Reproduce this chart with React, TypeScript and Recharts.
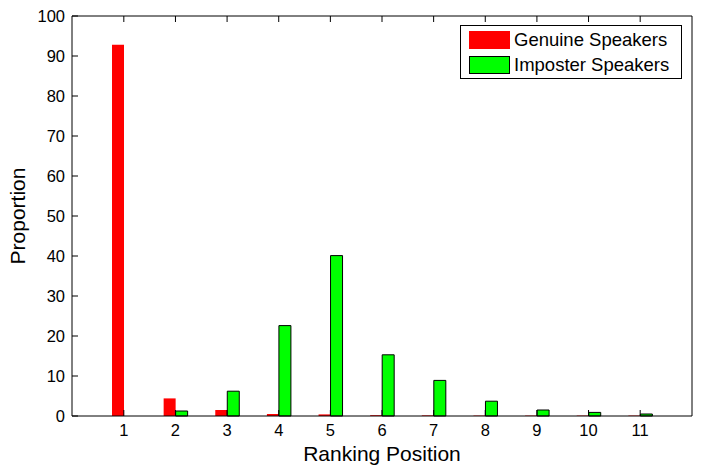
import { Bar, BarChart, XAxis, YAxis } from 'recharts';

const positions = ['1', '2', '3', '4', '5', '6', '7', '8', '9', '10', '11'];
const genuine = [92.8, 4.4, 1.5, 0.5, 0.4, 0.2, 0.15, 0.1, 0.1, 0.1, 0.1];
const imposter = [0, 1.25, 6.2, 22.6, 40.1, 15.3, 8.9, 3.7, 1.5, 0.9, 0.5];
const yTicks = [0, 10, 20, 30, 40, 50, 60, 70, 80, 90, 100];

const data = positions.map((p, i) => ({
  pos: p,
  genuine: genuine[i],
  imposter: imposter[i],
}));

const FONT = '"Liberation Sans", Arial, sans-serif';
const TICK_LEN = 6;

// matlab-style inward ticks; label coords come in as axis pos +/- 8 (tickSize 6 + margin 2)
const BottomTick = (props: any) => {
  const { x, y, payload } = props;
  const ay = y - 8;
  return (
    <g>
      <path d={`M${x},${ay}V${ay - TICK_LEN}`} stroke="#000" strokeWidth={1} fill="none" />
      <text x={x} y={ay + 20} textAnchor="middle" fill="#000" fontSize={16.5} fontFamily={FONT}>
        {payload.value}
      </text>
    </g>
  );
};

const LeftTick = (props: any) => {
  const { x, y, payload } = props;
  const ax = x + 8;
  return (
    <g>
      <path d={`M${ax},${y}H${ax + TICK_LEN}`} stroke="#000" strokeWidth={1} fill="none" />
      <text x={ax - 7} y={y + 6} textAnchor="end" fill="#000" fontSize={16.5} fontFamily={FONT}>
        {payload.value}
      </text>
    </g>
  );
};

const TopTick = (props: any) => {
  const { x, y } = props;
  const ay = y + 8;
  return <path d={`M${x},${ay}V${ay + TICK_LEN}`} stroke="#000" strokeWidth={1} fill="none" />;
};

const RightTick = (props: any) => {
  const { x, y } = props;
  const ax = x - 8;
  return <path d={`M${ax},${y}H${ax - TICK_LEN}`} stroke="#000" strokeWidth={1} fill="none" />;
};

function LegendBox() {
  const row = (color: string, stroke: string, label: string) => (
    <div style={{ display: 'flex', alignItems: 'center', height: 24.5 }}>
      <div
        style={{
          width: 41,
          height: 18,
          background: color,
          border: `1px solid ${stroke}`,
          boxSizing: 'border-box',
          marginRight: 4,
        }}
      />
      <span>{label}</span>
    </div>
  );
  return (
    <div
      style={{
        position: 'absolute',
        left: 460,
        top: 25,
        width: 222,
        height: 54,
        boxSizing: 'border-box',
        border: '1px solid #000',
        background: '#fff',
        padding: '2px 0 0 8px',
        fontFamily: FONT,
        fontSize: 18.5,
        color: '#000',
      }}
    >
      {row('#ff0000', '#ff0000', 'Genuine Speakers')}
      {row('#00ff00', '#000', 'Imposter Speakers')}
    </div>
  );
}

export default function App() {
  return (
    <div style={{ position: 'absolute', left: 0, top: 0, width: 706, height: 470, background: '#fff' }}>
      <BarChart
        width={706}
        height={470}
        data={data}
        margin={{ top: 15, right: 13, bottom: 0, left: 0 }}
        barSize={12}
        barGap={0}
        style={{ fontFamily: FONT }}
      >
        <XAxis
          dataKey="pos"
          height={54}
          padding={{ left: 26, right: 26 }}
          tick={BottomTick}
          axisLine={{ stroke: '#000' }}
          tickLine={false}
          interval={0}
          label={{ value: 'Ranking Position', position: 'insideBottom', offset: 9, fill: '#000', fontSize: 21 }}
        />
        <XAxis
          xAxisId="top"
          dataKey="pos"
          orientation="top"
          height={1}
          padding={{ left: 26, right: 26 }}
          tick={TopTick}
          axisLine={{ stroke: '#000' }}
          tickLine={false}
          interval={0}
        />
        <YAxis
          width={72}
          domain={[0, 100]}
          ticks={yTicks}
          interval={0}
          tick={LeftTick}
          axisLine={{ stroke: '#000' }}
          tickLine={false}
          label={{ value: 'Proportion', angle: -90, position: 'insideLeft', offset: 18, fill: '#000', fontSize: 21, style: { textAnchor: 'middle' } }}
        />
        <YAxis
          yAxisId="right"
          orientation="right"
          width={1}
          domain={[0, 100]}
          ticks={yTicks}
          interval={0}
          tick={RightTick}
          axisLine={{ stroke: '#000' }}
          tickLine={false}
        />
        <Bar dataKey="genuine" fill="#ff0000" stroke="none" isAnimationActive={false} />
        <Bar dataKey="imposter" fill="#00ff00" stroke="#000" strokeWidth={1} isAnimationActive={false} />
      </BarChart>
      <LegendBox />
    </div>
  );
}
